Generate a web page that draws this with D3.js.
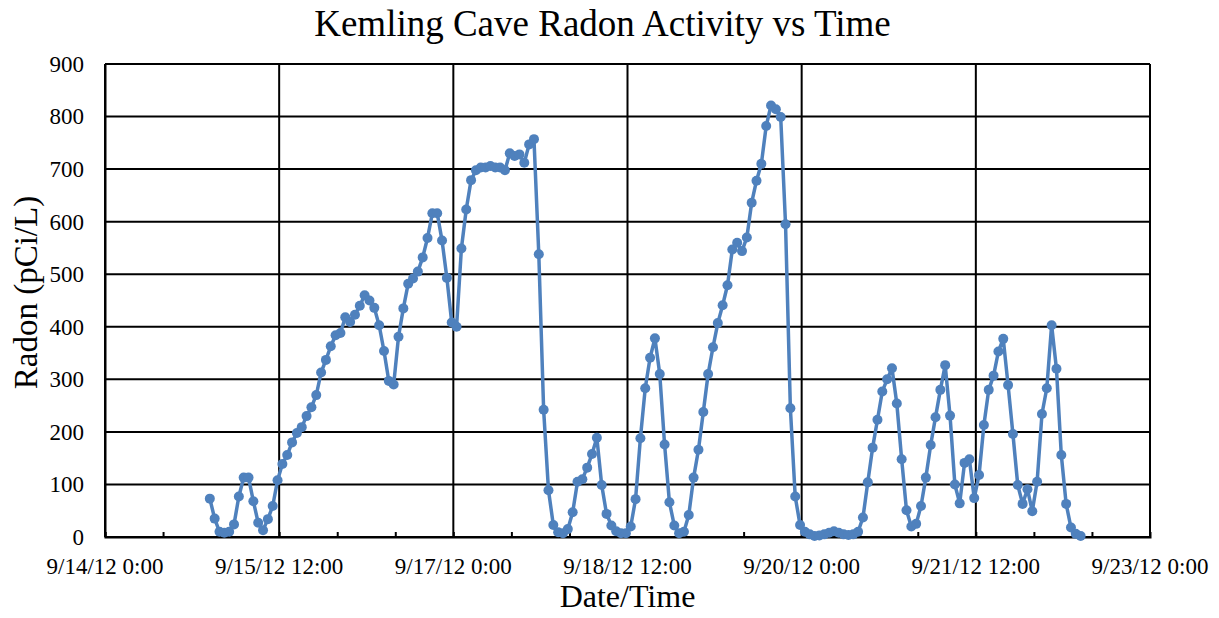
<!DOCTYPE html>
<html>
<head>
<meta charset="utf-8">
<script src="https://cdn.jsdelivr.net/npm/d3@7"></script>
<style>
    body { margin: 0; background: #fff; }
    #chart { width: 1219px; height: 618px; }
    text { font-family: "Liberation Serif", "Times New Roman", serif; fill: #000; }
</style>
</head>
<body>
<div id="chart"></div>
<script>

// logger readings, one per hour, first reading at 9/14/12 21:40
const startTime = new Date(2012, 8, 14, 21, 40);
const stepHours = 1;

const radon = [
    73, 35, 10, 8, 10, 24, 77, 113, 113, 68,
    27, 13, 34, 59, 108, 139, 156, 180, 198, 209,
    230, 247, 270, 313, 337, 363, 384, 388, 418, 409,
    423, 440, 460, 450, 436, 403, 354, 297, 290, 381,
    435, 482, 492, 505, 532, 569, 616, 616, 564, 493,
    408, 400, 549, 623, 679, 698, 703, 703, 706, 703,
    703, 698, 730, 725, 728, 712, 747, 757, 538, 242,
    89, 23, 9, 7, 15, 47, 105, 110, 132, 158,
    189, 99, 44, 22, 11, 7, 7, 20, 72, 188,
    283, 341, 378, 310, 176, 66, 22, 7, 10, 42,
    113, 166, 238, 310, 361, 407, 441, 479, 547, 560,
    544, 570, 636, 678, 710, 782, 821, 814, 799, 595,
    245, 77, 23, 10, 5, 2, 3, 5, 8, 11,
    8, 5, 4, 5, 10, 37, 104, 170, 223, 277,
    300, 321, 254, 148, 51, 20, 25, 59, 113, 175,
    228, 280, 327, 231, 100, 64, 141, 148, 74, 118,
    213, 280, 307, 353, 377, 289, 196, 99, 63, 91,
    49, 105, 234, 283, 403, 320, 156, 63, 18, 6,
    2
];

const xTicks = [
    new Date(2012, 8, 14, 0), new Date(2012, 8, 15, 12), new Date(2012, 8, 17, 0),
    new Date(2012, 8, 18, 12), new Date(2012, 8, 20, 0), new Date(2012, 8, 21, 12),
    new Date(2012, 8, 23, 0)
];
const yTicks = [0, 100, 200, 300, 400, 500, 600, 700, 800, 900];

const data = radon.map(function(v, i) {
    return { time: new Date(startTime.getTime() + i * stepHours * 3600000), value: v };
});

const width = 1219;
const height = 618;
const margin = {top: 64, left: 105, right: 69, bottom: 81};

const canvas = d3.select("#chart")
    .append("svg")
    .attr("width", width)
    .attr("height", height);

const xScale = d3.scaleTime()
    .domain([xTicks[0], xTicks[xTicks.length - 1]])
    .range([margin.left, width - margin.right]);

const yScale = d3.scaleLinear()
    .domain([0, 900])
    .range([height - margin.bottom, margin.top]);

const fmt = function(d) {
    return (d.getMonth() + 1) + "/" + d.getDate() + "/" + String(d.getFullYear()).slice(2) +
        " " + d.getHours() + ":" + String(d.getMinutes()).padStart(2, "0");
};

// horizontal grid
canvas.append("g")
    .selectAll("line")
    .data(yTicks)
    .enter()
    .append("line")
        .attr("x1", margin.left)
        .attr("x2", width - margin.right)
        .attr("y1", function(d) { return yScale(d); })
        .attr("y2", function(d) { return yScale(d); })
        .attr("stroke", "#000")
        .attr("stroke-width", 2);

// vertical grid
canvas.append("g")
    .selectAll("line")
    .data(xTicks)
    .enter()
    .append("line")
        .attr("x1", function(d) { return xScale(d); })
        .attr("x2", function(d) { return xScale(d); })
        .attr("y1", margin.top)
        .attr("y2", height - margin.bottom)
        .attr("stroke", "#000")
        .attr("stroke-width", 2);

// minor ticks every 12 hours, pointing up
const minorTicks = d3.timeHour.every(12).range(xTicks[0], xTicks[xTicks.length - 1]);

const xAxis = canvas.append("g")
    .attr("class", "axis")
    .attr("transform", `translate(0, ${height - margin.bottom})`)
    .call(d3.axisBottom().scale(xScale).tickValues(minorTicks).tickSize(-5).tickFormat(""));

xAxis.select(".domain").attr("stroke", "#000").attr("stroke-width", 2);
xAxis.selectAll(".tick line").attr("stroke", "#000").attr("stroke-width", 2);

const xLabels = canvas.append("g")
    .selectAll("text")
    .data(xTicks)
    .enter()
    .append("text")
        .attr("x", function(d) { return xScale(d); })
        .attr("y", height - margin.bottom + 37)
        .attr("text-anchor", "middle")
        .style("font-size", "23px")
        .text(fmt);

const yAxis = canvas.append("g")
    .attr("class", "axis")
    .attr("transform", `translate(${margin.left},0)`)
    .call(d3.axisLeft().scale(yScale).tickValues(yTicks).tickSize(0).tickPadding(21));

yAxis.select(".domain").attr("stroke", "#000").attr("stroke-width", 2);
yAxis.selectAll(".tick text")
    .style("font-size", "23px")
    .style("font-family", "'Liberation Serif', 'Times New Roman', serif");

const line = d3.line()
    .x(function(d) { return xScale(d.time); })
    .y(function(d) { return yScale(d.value); });

canvas.append("path")
    .datum(data)
    .attr("d", line)
    .attr("fill", "none")
    .attr("stroke", "#4F81BD")
    .attr("stroke-width", 3.5)
    .attr("stroke-linejoin", "round");

canvas.append("g")
    .selectAll("circle")
    .data(data)
    .enter()
    .append("circle")
        .attr("cx", function(d) { return xScale(d.time); })
        .attr("cy", function(d) { return yScale(d.value); })
        .attr("r", 5)
        .attr("fill", "#4F81BD");

canvas.append("text")
    .attr("x", width / 2 - 7)
    .attr("y", 36)
    .attr("text-anchor", "middle")
    .style("font-size", "37px")
    .text("Kemling Cave Radon Activity vs Time");

canvas.append("text")
    .attr("x", (margin.left + width - margin.right) / 2)
    .attr("y", height - 11)
    .attr("text-anchor", "middle")
    .style("font-size", "32px")
    .text("Date/Time");

canvas.append("text")
    .attr("transform", "rotate(-90)")
    .attr("x", -((margin.top + height - margin.bottom) / 2) + 8)
    .attr("y", 37)
    .attr("text-anchor", "middle")
    .style("font-size", "33px")
    .text("Radon (pCi/L)");

</script>
</body>
</html>
